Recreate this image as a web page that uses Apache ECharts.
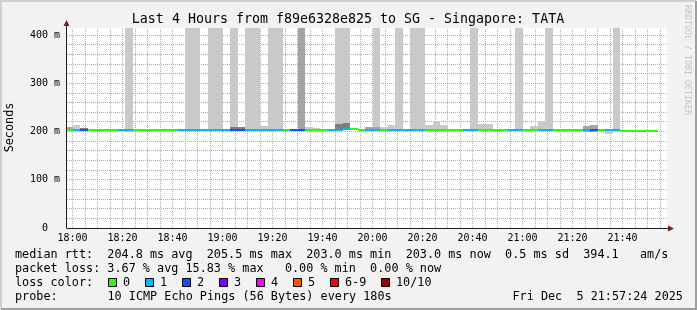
<!DOCTYPE html>
<html><head><meta charset="utf-8">
<script src="https://cdn.jsdelivr.net/npm/echarts@6/dist/echarts.min.js"></script>
<style>html,body{margin:0;padding:0;background:#f2f2f2}#c{width:697px;height:310px}</style>
</head><body><div id="c"></div><script>
const _ = null;
// ---- data ----
const binTimes = [
 '17:57',
 '18:00','18:03','18:06','18:09','18:12','18:15','18:18','18:21','18:24','18:27',
 '18:30','18:33','18:36','18:39','18:42','18:45','18:48','18:51','18:54','18:57',
 '19:00','19:03','19:06','19:09','19:12','19:15','19:18','19:21','19:24','19:27',
 '19:30','19:33','19:36','19:39','19:42','19:45','19:48','19:51','19:54','19:57',
 '20:00','20:03','20:06','20:09','20:12','20:15','20:18','20:21','20:24','20:27',
 '20:30','20:33','20:36','20:39','20:42','20:45','20:48','20:51','20:54','20:57',
 '21:00','21:03','21:06','21:09','21:12','21:15','21:18','21:21','21:24','21:27',
 '21:30','21:33','21:36','21:39','21:42','21:45','21:48','21:51'
];
const lossCount = [
 0,1,2,0,0,0,0,1,1,0,
 0,0,0,0,0,1,1,1,1,1,
 1,1,2,2,1,1,1,1,1,0,
 2,2,0,0,0,1,1,1,0,0,
 1,1,0,1,1,1,1,1,0,0,
 0,0,0,1,1,0,0,0,0,1,
 1,0,0,1,1,0,0,0,0,1,
 2,0,1,1,0,0,0,0,0
];
const medianMs = [
 204.5,204.5,204.5,204.5,204.5,204.5,204.5,204.5,204.5,204.5,
 204.5,204.5,204.5,204.5,204.5,204.5,204.5,204.5,204.5,204.5,
 204.5,204.5,204.5,204.5,204.5,204.5,204.5,204.5,204.5,204.5,
 204.5,204.5,204.5,204.5,204.5,204.5,204.5,206.5,206.5,204.5,
 204.5,204.5,204.5,204.5,204.5,204.5,204.5,204.5,204.5,204.5,
 204.5,204.5,204.5,204.5,204.5,204.5,204.5,204.5,204.5,204.5,
 204.5,204.5,204.5,204.5,204.5,204,204,204,204,204.5,
 204.5,204.5,204.5,204.5,203,203,203,203,203
];
// smoke (ms): outer (light), middle, inner (dark) bands; null = not visible
const lightTop = [
 _,214,_,_,_,_,_,_,600,_,
 _,_,_,_,_,_,600,600,_,600,
 600,_,600,_,600,600,212,600,600,_,
 _,_,209.6,208,_,_,600,600,_,_,
 _,600,209.6,213.7,600,_,600,600,213.7,222,
 213.7,_,_,_,600,215.8,215.8,_,_,_,
 600,_,211.7,222,600,_,_,_,_,_,
 _,_,_,600,_,_,_,_,_
];
const lightBottom = [
 _,_,_,_,_,_,_,200,200,_,
 _,_,_,_,_,_,_,_,_,_,
 _,_,_,_,_,_,_,_,_,_,
 _,_,_,_,_,_,_,_,_,_,
 _,_,_,_,_,_,_,_,_,_,
 _,_,_,_,_,_,_,_,_,_,
 _,199.5,_,_,_,199.5,199.5,_,_,_,
 _,_,195.5,199.5,200.5,_,199.5,199.5,199.5
];
const midTop = [
 209.5,_,_,_,_,_,_,_,_,_,
 _,_,_,_,_,_,_,_,_,_,
 _,_,_,_,_,_,_,_,_,_,
 _,600,_,_,_,_,_,_,_,_,
 209.6,209.6,_,_,_,_,_,_,_,_,
 _,_,_,_,_,_,_,_,_,_,
 _,_,_,_,_,_,_,_,_,211.7,
 213.7,_,_,_,_,_,_,_,_
];
const midBottom = [
 _,_,_,_,_,_,_,_,_,_,
 _,_,_,_,_,_,_,_,_,_,
 _,_,_,_,_,_,_,_,_,_,
 _,_,_,_,_,_,_,_,_,_,
 _,_,_,_,_,_,_,_,_,_,
 _,_,_,_,_,_,_,_,_,_,
 _,_,_,_,_,_,_,_,_,199.5,
 199.5,_,_,_,_,199.5,_,_,_
];
const darkTop = [
 _,_,208,_,_,_,_,_,_,_,
 _,_,_,_,_,_,_,_,_,_,
 _,_,209.6,209.6,_,_,_,_,_,_,
 _,_,_,_,_,_,215.8,218.5,_,_,
 _,_,_,_,_,_,_,_,_,_,
 _,_,_,_,_,_,_,_,_,_,
 _,_,_,_,_,_,_,_,_,_,
 _,_,_,_,_,_,_,_,_
];
const xTickLabels = ['18:00','18:20','18:40','19:00','19:20','19:40','20:00','20:20','20:40','21:00','21:20','21:40'];
const yTickValues = [0, 100, 200, 300, 400];
const yTickLabels = ['0\u00a0\u00a0', '100 m', '200 m', '300 m', '400 m'];
const lossLegend = ['0','1','2','3','4','5','6-9','10/10'];
const lossColors = ['#26ff00','#00b8ff','#0059ff','#7e00ff','#ff00ff','#ff5500','#ff0000','#ff0000','#ff0000','#ff0000','#a10000'];
const legendBoxColors = ['#26ff00','#00b8ff','#0059ff','#7e00ff','#ff00ff','#ff5500','#ff0000','#a10000'];
const titleText = 'Last 4 Hours from f89e6328e825 to SG - Singapore: TATA';
const statRtt = 'median rtt:  204.8 ms avg  205.5 ms max  203.0 ms min  203.0 ms now  0.5 ms sd  394.1   am/s';
const statLoss = 'packet loss: 3.67 % avg 15.83 % max   0.00 % min  0.00 % now';
const probeText = '10 ICMP Echo Pings (56 Bytes) every 180s';
const dateText = 'Fri Dec  5 21:57:24 2025';
const axisStart = '17:57:48', axisEnd = '21:57:48';
const STEP_MIN = 3, MINOR_X = 5, MINOR_Y = 20;
const Y_MAX = 415;

// ---- helpers ----
const BASE = 18 * 60;
function toMin(s){ const p = s.split(':').map(Number); return p[0]*60 + p[1] + (p[2]||0)/60 - BASE; }
const X_MIN = toMin(axisStart), X_MAX = toMin(axisEnd);
const xTickValues = xTickLabels.map(toMin);
const xMinor = []; for (let v = Math.ceil(X_MIN / MINOR_X) * MINOR_X; v < X_MAX; v += MINOR_X) if (v % 20 !== 0) xMinor.push(v);
const yMinor = []; for (let v = MINOR_Y; v < Y_MAX; v += MINOR_Y) if (v % 100 !== 0) yMinor.push(v);
const FONT = 'DejaVu Sans Mono';
const C_LIGHT = '#c9c9c9', C_MID = '#a4a4a4', C_DARK = '#7e7e7e';

function bandData(tops, bottoms){
  const out = [];
  binTimes.forEach((t, i) => {
    const hi = tops ? tops[i] : null, lo = bottoms ? bottoms[i] : null;
    if (hi == null && lo == null) return;
    out.push([toMin(t), lo == null ? medianMs[i] : lo, hi == null ? medianMs[i] : hi]);
  });
  return out;
}
function clip(params, r){
  const cs = params.coordSys;
  return echarts.graphic.clipRectByRect(r, {x: cs.x, y: cs.y, width: cs.width, height: cs.height});
}
function bandSeries(data, color, z){
  return {
    type: 'custom', z: z, silent: true, data: data, animation: false,
    renderItem: function(params, api){
      const t = api.value(0), lo = api.value(1), hi = api.value(2);
      const a = api.coord([t, hi]), b = api.coord([t + STEP_MIN, lo]);
      const x0 = Math.round(a[0]), x1 = Math.round(b[0]);
      const y0 = Math.round(a[1]), y1 = Math.round(b[1]);
      const shape = clip(params, {x: x0, y: y0, width: x1 - x0, height: Math.max(1, y1 - y0)});
      if (!shape) return;
      return {type: 'rect', shape: shape, style: {fill: color}};
    }
  };
}
function vGrid(values, color){
  return {
    type: 'custom', z: 1, silent: true, animation: false, data: values.map(v => [v]),
    renderItem: function(params, api){
      const a = api.coord([api.value(0), 0]), b = api.coord([api.value(0), Y_MAX]);
      const x = Math.floor(a[0]) + 0.5;
      return {type: 'line', shape: {x1: x, y1: a[1], x2: x, y2: b[1]}, style: {stroke: color, lineWidth: 1, lineDash: [1, 1]}};
    }
  };
}
function hGrid(values, color){
  return {
    type: 'custom', z: 1, silent: true, animation: false, data: values.map(v => [X_MIN, v]),
    renderItem: function(params, api){
      const a = api.coord([X_MIN, api.value(1)]), b = api.coord([X_MAX, api.value(1)]);
      const y = Math.floor(a[1]) + 0.5;
      return {type: 'line', shape: {x1: a[0], y1: y, x2: b[0], y2: y}, style: {stroke: color, lineWidth: 1, lineDash: [1, 1]}};
    }
  };
}
const medianData = binTimes.map((t, i) => [toMin(t), medianMs[i], lossCount[i]]);

const chart = echarts.init(document.getElementById('c'), null, {renderer: 'canvas'});
const txt = (x, y, text, extra) => Object.assign({type: 'text', x: x, y: y, silent: true,
  style: Object.assign({text: text, font: '11.8px "' + FONT + '"', fill: '#000', align: 'left', verticalAlign: 'middle'}, extra || {})});
const graphics = [
  {type: 'polyline', silent: true, shape: {points: [[1, 309], [1, 1], [696, 1]]}, style: {stroke: '#cfcfcf', lineWidth: 2, fill: null}},
  {type: 'polyline', silent: true, shape: {points: [[1, 309], [696, 309], [696, 1]]}, style: {stroke: '#9e9e9e', lineWidth: 2, fill: null}},
  txt(348, 19.5, titleText, {font: '13.3px "' + FONT + '"', align: 'center'}),
  {type: 'text', x: 10, y: 127.5, rotation: Math.PI / 2, silent: true,
   style: {text: 'Seconds', font: '11.8px "' + FONT + '"', fill: '#000', align: 'center', verticalAlign: 'middle'}},
  {type: 'text', x: 687, y: 60, rotation: -Math.PI / 2, silent: true,
   style: {text: 'RRDTOOL / TOBI OETIKER', font: '8.3px "' + FONT + '"', fill: '#c4c4c4', align: 'center', verticalAlign: 'middle'}},
  // axis extensions and arrows
  {type: 'line', silent: true, shape: {x1: 66.5, y1: 28, x2: 66.5, y2: 24}, style: {stroke: '#1f1f1f', lineWidth: 1}},
  {type: 'polygon', silent: true, shape: {points: [[66.5, 20], [63.5, 26], [69.5, 26]]}, style: {fill: '#801f1f'}},
  {type: 'line', silent: true, shape: {x1: 667, y1: 228.5, x2: 670, y2: 228.5}, style: {stroke: '#1f1f1f', lineWidth: 1}},
  {type: 'polygon', silent: true, shape: {points: [[674, 228.5], [668, 225.5], [668, 231.5]]}, style: {fill: '#801f1f'}},
  txt(15, 254.5, statRtt),
  txt(15, 268.5, statLoss),
  txt(15, 282.5, 'loss color:'),
  txt(15, 296.5, 'probe:'),
  txt(107.5, 296.5, probeText),
  txt(512.5, 296.5, dateText)
];
const boxX = [108, 145, 182, 219, 256, 293, 330, 381];
lossLegend.forEach((lab, k) => {
  graphics.push({type: 'rect', silent: true, shape: {x: boxX[k] + 0.5, y: 278.5, width: 8, height: 8}, style: {fill: legendBoxColors[k], stroke: '#000', lineWidth: 1}});
  graphics.push(txt(boxX[k] + 15, 282.5, lab));
});

chart.setOption({
  animation: false,
  backgroundColor: '#f2f2f2',
  grid: {left: 67, top: 28, width: 600, height: 200, show: true, backgroundColor: '#ffffff', borderWidth: 0},
  xAxis: {
    type: 'value', min: X_MIN, max: X_MAX, minInterval: 20, maxInterval: 20, splitNumber: 12,
    axisLine: {show: true, onZero: false, lineStyle: {color: '#1f1f1f', width: 1}},
    axisTick: {show: false}, splitLine: {show: false}, minorSplitLine: {show: false},
    axisLabel: {showMinLabel: false, showMaxLabel: false, color: '#000', fontFamily: FONT, fontSize: 10, margin: 5,
      formatter: v => { const k = xTickValues.findIndex(x => Math.abs(x - v) < 1e-6); return k < 0 ? '' : xTickLabels[k]; }}
  },
  yAxis: {
    type: 'value', min: 0, max: Y_MAX, minInterval: 100, maxInterval: 100, offset: 1,
    axisLine: {show: true, onZero: false, lineStyle: {color: '#1f1f1f', width: 1}},
    axisTick: {show: false}, splitLine: {show: false},
    axisLabel: {showMaxLabel: false, color: '#000', fontFamily: FONT, fontSize: 10, margin: 6,
      formatter: v => { const k = yTickValues.indexOf(v); return k < 0 ? '' : yTickLabels[k]; }}
  },
  graphic: graphics,
  series: [
    vGrid(xMinor, 'rgba(143,143,143,0.75)'),
    hGrid(yMinor, 'rgba(143,143,143,0.75)'),
    vGrid(xTickValues, 'rgba(222,79,79,0.6)'),
    hGrid(yTickValues.filter(v => v > 0), 'rgba(222,79,79,0.6)'),
    bandSeries(bandData(lightTop, lightBottom), C_LIGHT, 3),
    bandSeries(bandData(midTop, midBottom), C_MID, 4),
    bandSeries(bandData(darkTop, null), C_DARK, 5),
    {
      type: 'custom', z: 6, silent: true, animation: false, data: medianData,
      renderItem: function(params, api){
        const t = api.value(0), m = api.value(1), loss = api.value(2);
        const a = api.coord([t, m]), b = api.coord([t + STEP_MIN, m]);
        const x0 = Math.round(a[0]), x1 = Math.round(b[0]);
        const y0 = Math.floor(a[1]);
        const shape = clip(params, {x: x0, y: y0, width: x1 - x0, height: 2});
        if (!shape) return;
        return {type: 'rect', shape: shape, style: {fill: lossColors[loss]}};
      }
    }
  ]
});
</script></body></html>
